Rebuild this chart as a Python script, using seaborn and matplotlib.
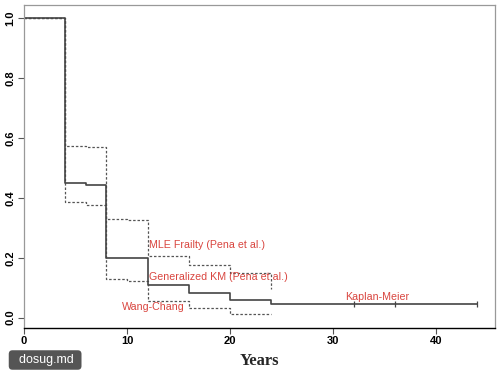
"""Survival curves: Kaplan-Meier with frailty / generalized KM bounds"""

import matplotlib
matplotlib.use("Agg")
import matplotlib.pyplot as plt
import numpy as np
import pandas as pd
import seaborn as sns

# step curves
km_years = [0, 4, 6, 8, 12, 16, 20, 24, 44]
km_surv = [1.0, 0.45, 0.443, 0.198, 0.108, 0.083, 0.06, 0.045, 0.045]

upper_years = [0, 4, 6, 8, 10, 12, 16, 20, 24]
upper_surv = [1.0, 0.575, 0.57, 0.33, 0.325, 0.205, 0.177, 0.15, 0.095]

lower_years = [0, 4, 6, 8, 10, 12, 16, 20, 24]
lower_surv = [1.0, 0.385, 0.378, 0.13, 0.124, 0.057, 0.033, 0.013, 0.013]

censor_years = [32, 36, 44]
censor_surv = [0.045, 0.045, 0.045]

labels = ["MLE Frailty (Pena et al.)", "Generalized KM (Pena et al.)",
          "Wang-Chang", "Kaplan-Meier"]
label_x = [17.8, 18.9, 12.5, 34.3]
label_y = [0.243, 0.137, 0.035, 0.07]

sns.set_style("white")
plt.rcParams['font.family'] = ['Liberation Sans', 'DejaVu Sans']

fig = plt.figure(figsize=(5, 3.75), dpi=100)
ax = fig.add_axes([0.048, 0.125, 0.942, 0.862])

dotted = (0, (2.0, 1.5))
sns.lineplot(x=upper_years, y=upper_surv, drawstyle='steps-post', estimator=None,
             sort=False, color='#555555', linewidth=0.9, linestyle=dotted, ax=ax)
sns.lineplot(x=lower_years, y=lower_surv, drawstyle='steps-post', estimator=None,
             sort=False, color='#555555', linewidth=0.9, linestyle=dotted, ax=ax)
sns.lineplot(x=km_years, y=km_surv, drawstyle='steps-post', estimator=None,
             sort=False, color='#444444', linewidth=1.2, ax=ax)
sns.scatterplot(x=censor_years, y=censor_surv, marker='|', s=25, color='#444444',
                linewidth=0.9, ax=ax)

for txt, lx, ly in zip(labels, label_x, label_y):
    ax.text(lx, ly, txt, color='#d9453f', fontsize=7.7, ha='center', va='center')

ax.set_xlim(0, 45.7)
ax.set_ylim(-0.035, 1.045)
ax.set_xticks([0, 10, 20, 30, 40])
ax.set_yticks([0.0, 0.2, 0.4, 0.6, 0.8, 1.0])
ax.set_yticklabels(["0.0", "0.2", "0.4", "0.6", "0.8", "1.0"], rotation=90, va='center')
ax.tick_params(axis='both', length=4, width=0.8, color='#555555', labelsize=8,
               labelcolor='black', pad=2, bottom=True, left=True)
for lab in ax.get_xticklabels() + ax.get_yticklabels():
    lab.set_fontweight('bold')
for side in ['left', 'top', 'right']:
    ax.spines[side].set_color('#999999')
    ax.spines[side].set_linewidth(0.9)
ax.spines['bottom'].set_color('black')
ax.spines['bottom'].set_linewidth(1.0)

ax.set_xlabel("Years", fontfamily='Liberation Serif', fontweight='bold', fontsize=12,
              labelpad=5)
ax.set_ylabel("")

# watermark in the corner
fig.text(0.025, 0.04, "  dosug.md ", color='white', fontsize=9, va='center', ha='left',
         bbox=dict(boxstyle='round,pad=0.3', fc='#555555', ec='none'))

plt.savefig("out.png", dpi=100)
plt.close(fig)
